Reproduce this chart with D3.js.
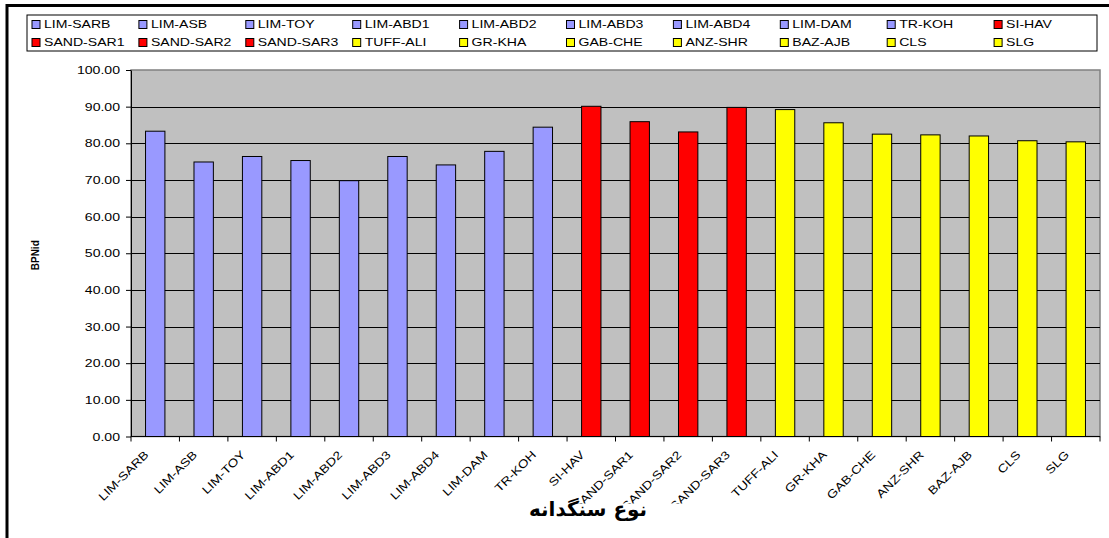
<!DOCTYPE html>
<html>
<head>
<meta charset="utf-8">
<script src="https://cdn.jsdelivr.net/npm/d3@7"></script>
<style>
  body { margin: 0; background: #fff; }
  svg { display: block; }
  text { font-family: 'Liberation Sans', Arial, sans-serif; fill: #000; }
</style>
</head>
<body>
<svg></svg>
<script>
// constants
const WIDTH = 1109;
const HEIGHT = 538;
const PLOT = { left: 131, right: 1100, top: 70, bottom: 436.5 };
const FONT = 11;
const STRETCH = 1.28; // the original picture is stretched sideways

// data
const categories = ['LIM-SARB', 'LIM-ASB', 'LIM-TOY', 'LIM-ABD1', 'LIM-ABD2', 'LIM-ABD3', 'LIM-ABD4',
  'LIM-DAM', 'TR-KOH', 'SI-HAV', 'SAND-SAR1', 'SAND-SAR2', 'SAND-SAR3', 'TUFF-ALI', 'GR-KHA',
  'GAB-CHE', 'ANZ-SHR', 'BAZ-AJB', 'CLS', 'SLG'];
const values = [83.3, 74.9, 76.4, 75.3, 69.8, 76.4, 74.1, 77.8, 84.4, 90.1,
  85.9, 83.1, 89.8, 89.2, 85.6, 82.5, 82.3, 82.0, 80.7, 80.4];
const groups = [1, 1, 1, 1, 1, 1, 1, 1, 1, 2, 2, 2, 2, 3, 3, 3, 3, 3, 3, 3];
const yTicks = [0, 10, 20, 30, 40, 50, 60, 70, 80, 90, 100];
const yTitle = 'BPNid';
const xTitle = 'نوع سنگدانه';

const data = categories.map((c, i) => ({ name: c, value: values[i], group: groups[i] }));

const color = d3.scaleOrdinal()
  .domain([1, 2, 3])
  .range(['#9999FF', '#FF0000', '#FFFF00']);

const svg = d3.select('svg')
  .attr('width', WIDTH)
  .attr('height', HEIGHT);

// outer frame (runs off the right and bottom edges)
svg.append('rect')
  .attr('x', 7).attr('y', 5.5)
  .attr('width', WIDTH + 20).attr('height', HEIGHT + 20)
  .attr('fill', '#fff')
  .attr('stroke', '#000')
  .attr('stroke-width', 3);

// scales
const x = d3.scaleBand()
  .domain(categories)
  .range([PLOT.left, PLOT.right])
  .paddingInner(0.6)
  .paddingOuter(0.3);

const y = d3.scaleLinear()
  .domain([0, 100])
  .range([PLOT.bottom, PLOT.top]);

// plot area
svg.append('rect')
  .attr('x', PLOT.left).attr('y', PLOT.top)
  .attr('width', PLOT.right - PLOT.left)
  .attr('height', PLOT.bottom - PLOT.top)
  .attr('fill', '#C0C0C0')
  .attr('stroke', '#808080')
  .attr('stroke-width', 1.5);

svg.append('g')
  .selectAll('line')
  .data(yTicks.filter(d => d > 0 && d < 100)).join('line')
  .attr('x1', PLOT.left).attr('x2', PLOT.right)
  .attr('y1', d => Math.round(y(d)) + 0.5)
  .attr('y2', d => Math.round(y(d)) + 0.5)
  .attr('stroke', '#000')
  .attr('stroke-width', 1);

// bars
svg.append('g')
  .selectAll('rect')
  .data(data).join('rect')
  .attr('x', d => x(d.name))
  .attr('y', d => y(d.value))
  .attr('width', x.bandwidth())
  .attr('height', d => y(0) - y(d.value))
  .attr('fill', d => color(d.group))
  .attr('stroke', '#000')
  .attr('stroke-width', 1);

// y axis
const yAxis = svg.append('g')
  .attr('transform', `translate(${PLOT.left},0)`)
  .call(d3.axisLeft(y).tickValues(yTicks).tickFormat(d3.format('.2f')).tickSize(5).tickSizeOuter(0));
yAxis.select('.domain').attr('stroke', '#000');
yAxis.selectAll('.tick line').attr('stroke', '#000');
yAxis.selectAll('.tick text')
  .attr('font-family', "'Liberation Sans', Arial, sans-serif")
  .attr('font-size', FONT)
  .attr('x', -11 / STRETCH)
  .attr('transform', `scale(${STRETCH},1)`);

// x axis line and ticks between categories
svg.append('line')
  .attr('x1', PLOT.left).attr('x2', PLOT.right)
  .attr('y1', PLOT.bottom).attr('y2', PLOT.bottom)
  .attr('stroke', '#000');

svg.append('g')
  .selectAll('line')
  .data(d3.range(categories.length + 1)).join('line')
  .attr('x1', i => PLOT.left + i * x.step())
  .attr('x2', i => PLOT.left + i * x.step())
  .attr('y1', PLOT.bottom).attr('y2', PLOT.bottom + 5)
  .attr('stroke', '#000');

// rotated category labels, clipped low like the original
svg.append('clipPath').attr('id', 'label-clip')
  .append('rect')
  .attr('x', 0).attr('y', PLOT.bottom)
  .attr('width', WIDTH).attr('height', 67);

svg.append('g')
  .attr('clip-path', 'url(#label-clip)')
  .selectAll('text')
  .data(categories).join('text')
  .attr('text-anchor', 'end')
  .attr('font-size', 11.5)
  .attr('transform', d => `translate(${x(d) + x.bandwidth() / 2 - 6},${PLOT.bottom + 19}) rotate(-45) scale(1.2,1)`)
  .text(d => d);

// axis titles
svg.append('text')
  .attr('transform', `translate(39,${(PLOT.top + PLOT.bottom) / 2 + 2}) rotate(-90)`)
  .attr('text-anchor', 'middle')
  .attr('font-size', 10)
  .attr('font-weight', 'bold')
  .text(yTitle);

svg.append('text')
  .attr('x', 588)
  .attr('y', 516)
  .attr('text-anchor', 'middle')
  .attr('font-size', 20)
  .attr('font-weight', 'bold')
  .style('font-family', "'DejaVu Sans', sans-serif")
  .text(xTitle);

// legend
const LEGEND = { x: 27, y: 15, width: 1070, height: 36, col: 106.9, row: 18 };

const legend = svg.append('g').attr('id', 'legend');
legend.append('rect')
  .attr('x', LEGEND.x).attr('y', LEGEND.y)
  .attr('width', LEGEND.width).attr('height', LEGEND.height)
  .attr('fill', '#fff')
  .attr('stroke', '#000');

const item = legend.selectAll('g.item')
  .data(data).join('g')
  .attr('class', 'item')
  .attr('transform', (d, i) => `translate(${LEGEND.x + 5 + (i % 10) * LEGEND.col},${LEGEND.y + 9.5 + Math.floor(i / 10) * LEGEND.row})`);

item.append('rect')
  .attr('x', 0).attr('y', -4)
  .attr('width', 8).attr('height', 8)
  .attr('fill', d => color(d.group))
  .attr('stroke', '#000')
  .attr('stroke-width', 1);

item.append('text')
  .attr('x', 12 / STRETCH)
  .attr('dy', '0.36em')
  .attr('font-size', FONT)
  .attr('transform', `scale(${STRETCH},1)`)
  .text(d => d.name);
</script>
</body>
</html>
